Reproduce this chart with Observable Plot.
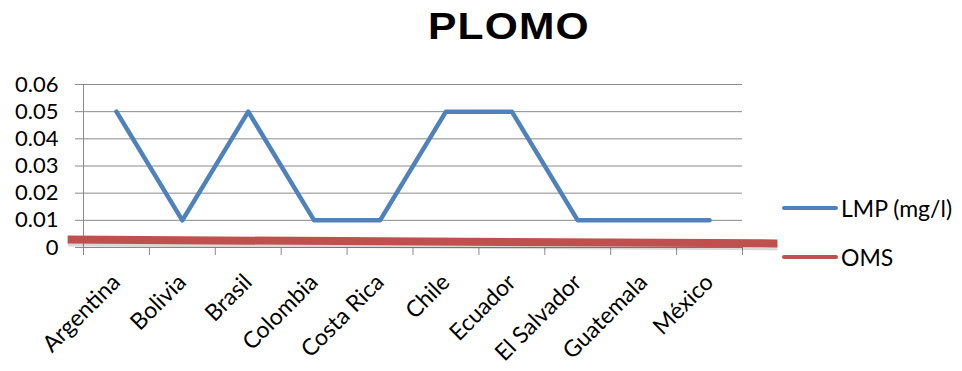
<!DOCTYPE html>
<html>
<head>
<meta charset="utf-8">
<script src="https://cdn.jsdelivr.net/npm/d3@7"></script>
<script src="https://cdn.jsdelivr.net/npm/@observablehq/plot@0.6"></script>
<style>
  body { margin: 0; background: #fff; }
  #wrap { position: relative; width: 962px; height: 371px; font-family: Lato, "Open Sans", sans-serif; }
  #title { position: absolute; left: 428px; top: 6px; font-family: "Liberation Sans", Arial, sans-serif; font-weight: bold; font-size: 37px; letter-spacing: 1px; color: #000; transform: scaleX(1.15); transform-origin: left top; }
  .leg { position: absolute; left: 782px; display: flex; align-items: center; font-size: 23px; color: #000; }
  .leg span.sw { display: inline-block; width: 56px; height: 4px; border-radius: 2px; margin-right: 3px; }
  svg { position: absolute; left: 0; top: 0; }
</style>
</head>
<body>
<div id="wrap">
  <div id="title">PLOMO</div>
</div>
<script>
const countries = ["Argentina", "Bolivia", "Brasil", "Colombia", "Costa Rica", "Chile", "Ecuador", "El Salvador", "Guatemala", "México"];
const lmp = [0.05, 0.01, 0.05, 0.01, 0.01, 0.05, 0.05, 0.01, 0.01, 0.01];
// OMS line as drawn: starts before first category and ends past the last one
const omsX = [-0.74, 10.03];
const omsY = [0.0029, 0.0015];
const yTicks = [0, 0.01, 0.02, 0.03, 0.04, 0.05, 0.06];
const seriesNames = ["LMP (mg/l)", "OMS"];
const seriesColors = ["#4F81BD", "#C0504D"];

const idx = countries.map((_, i) => i);
const bounds = d3.range(countries.length + 1).map(i => i - 0.5);
const lmpData = countries.map((c, i) => ({i, v: lmp[i]}));
const omsData = omsX.map((x, k) => ({x, v: omsY[k]}));

const chart = Plot.plot({
  width: 962,
  height: 371,
  marginLeft: 83,
  marginRight: 220,
  marginTop: 84,
  marginBottom: 124,
  style: {fontFamily: "Lato, 'Open Sans', sans-serif", fontSize: "22px", color: "#000", background: "transparent"},
  x: {type: "linear", domain: [-0.5, countries.length - 0.5]},
  y: {domain: [0, 0.06]},
  marks: [
    Plot.gridY(yTicks, {stroke: "#8a8a8a", strokeOpacity: 1, strokeWidth: 1}),
    Plot.axisY({ticks: yTicks, tickSize: 8, tickPadding: 17, stroke: "#8a8a8a", tickFormat: d => d === 0 ? "0" : d.toFixed(2), label: null, fontSize: 22}),
    Plot.ruleX([-0.5], {stroke: "#8a8a8a"}),
    Plot.ruleY([0], {stroke: "#8a8a8a"}),
    Plot.axisX({ticks: bounds, tickSize: 8, stroke: "#8a8a8a", tickFormat: () => "", label: null}),
    Plot.axisX({ticks: idx, tickSize: 0, tickPadding: 31, tickRotate: -45, tickFormat: i => countries[i], label: null, fontSize: 23}),
    Plot.line(lmpData, {x: "i", y: "v", stroke: seriesColors[0], strokeWidth: 4.5, strokeLinejoin: "round", strokeLinecap: "round"}),
    Plot.line(omsData, {x: "x", y: "v", stroke: "#000", strokeOpacity: 0.15, strokeWidth: 8, dy: 3, strokeLinecap: "butt"}),
    Plot.line(omsData, {x: "x", y: "v", stroke: seriesColors[1], strokeWidth: 8, strokeLinecap: "butt"})
  ]
});
const wrap = document.getElementById("wrap");
wrap.appendChild(chart);

const legTops = [194, 243];
seriesNames.forEach((n, k) => {
  const d = document.createElement("div");
  d.className = "leg";
  d.style.top = legTops[k] + "px";
  d.innerHTML = `<span class="sw" style="background:${seriesColors[k]}"></span>${n}`;
  wrap.appendChild(d);
});
</script>
</body>
</html>
